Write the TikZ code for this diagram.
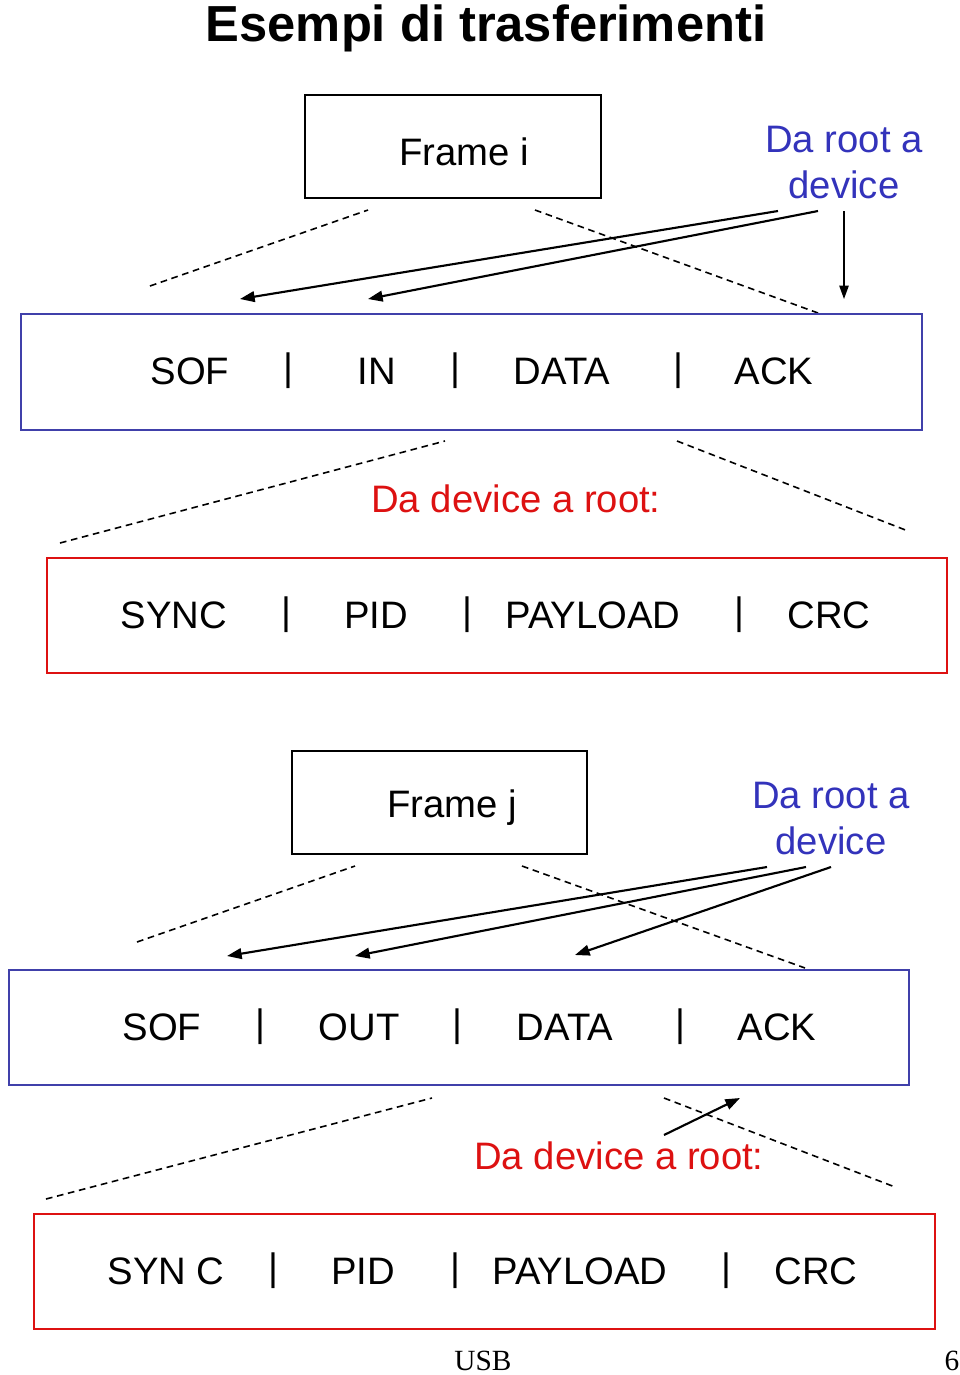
\documentclass[tikz,border=0pt]{standalone}
\usepackage{fontspec}
\setmainfont{Liberation Sans}
\newfontfamily\timesf{Liberation Serif}
\usetikzlibrary{arrows.meta}
\definecolor{rootblue}{RGB}{51,51,187}
\definecolor{boxblue}{RGB}{64,64,170}
\definecolor{devred}{RGB}{221,17,17}
\tikzset{
  frame/.style={draw=black, line width=1.5pt, inner sep=0pt, anchor=north west},
  bluebox/.style={draw=boxblue, line width=1.5pt, inner sep=0pt, anchor=north west},
  redbox/.style={draw=devred, line width=1.2pt, inner sep=0pt, anchor=north west},
  lbl/.style={font=\fontsize{28.7pt}{33pt}\selectfont, inner sep=0pt, anchor=center},
  bluelbl/.style={lbl, text=rootblue, align=center, font=\fontsize{28.7pt}{34.5pt}\selectfont},
  redlbl/.style={lbl, text=devred},
  dash line/.style={line width=1.2pt, dash pattern=on 5pt off 3.5pt},
  arr/.style={line width=1.6pt, -{Triangle[length=11pt,width=8pt]}},
  thinarr/.style={line width=1.1pt, -{Triangle[length=10pt,width=7pt]}}
}
\begin{document}
\begin{tikzpicture}[x=0.75pt,y=-0.75pt]
\useasboundingbox (0,0) rectangle (960,1375);
% title
\node[inner sep=0pt, anchor=base, font=\fontsize{38pt}{44pt}\selectfont\bfseries] (title) at (486,41) {Esempi di trasferimenti};

% ===== first example =====
\node[frame, minimum width=296*0.75pt, minimum height=103*0.75pt] (fi) at (304,94) {};
\node[lbl] (fitext) at (464,152) {Frame i};
\node[bluelbl] (r1) at (844,163) {Da root a\\device};
\coordinate (r1a) at (778,211);
\coordinate (r1b) at (818,211);
\coordinate (r1c) at (844,211);
\coordinate (t1a) at (240,299);
\coordinate (t1b) at (368,299);
\coordinate (t1c) at (844,299);

\coordinate (d1a) at (150,286); \coordinate (d1b) at (368,210);
\coordinate (d1c) at (535,210); \coordinate (d1d) at (818,313);
\draw[dash line] (d1a) -- (d1b);
\draw[dash line] (d1c) -- (d1d);
\draw[arr] (r1a) -- (t1a);
\draw[arr] (r1b) -- (t1b);
\draw[thinarr] (r1c) -- (t1c);

\node[bluebox, minimum width=901*0.75pt, minimum height=116*0.75pt] (b1) at (20,313) {};
\node[lbl] (b1sof) at (190,371) {SOF};
\node[lbl] (b1s1) at (288,371) {|};
\node[lbl] (b1in) at (377,371) {IN};
\node[lbl] (b1s2) at (455,371) {|};
\node[lbl] (b1data) at (562,371) {DATA};
\node[lbl] (b1s3) at (678,371) {|};
\node[lbl] (b1ack) at (774,371) {ACK};

\coordinate (d2a) at (60,543); \coordinate (d2b) at (445,441);
\coordinate (d2c) at (677,441); \coordinate (d2d) at (908,531);
\draw[dash line] (d2a) -- (d2b);
\draw[dash line] (d2c) -- (d2d);
\node[redlbl] (dr1) at (516,499) {Da device a root:};

\node[redbox, minimum width=900*0.75pt, minimum height=115*0.75pt] (rb1) at (46,557) {};
\node[lbl] (rb1sync) at (174,615) {SYNC};
\node[lbl] (rb1s1) at (286,615) {|};
\node[lbl] (rb1pid) at (376,615) {PID};
\node[lbl] (rb1s2) at (467,615) {|};
\node[lbl] (rb1pay) at (593,615) {PAYLOAD};
\node[lbl] (rb1s3) at (739,615) {|};
\node[lbl] (rb1crc) at (829,615) {CRC};

% ===== second example =====
\node[frame, minimum width=295*0.75pt, minimum height=103*0.75pt] (fj) at (291,750) {};
\node[lbl] (fjtext) at (452,808) {Frame j};
\node[bluelbl] (r2) at (831,819) {Da root a\\device};
\coordinate (r2a) at (767,867);
\coordinate (r2b) at (806,867);
\coordinate (r2c) at (831,867);
\coordinate (t2a) at (227,956);
\coordinate (t2b) at (355,956);
\coordinate (t2c) at (575,955);

\coordinate (d3a) at (137,942); \coordinate (d3b) at (355,866);
\coordinate (d3c) at (522,866); \coordinate (d3d) at (805,968);
\draw[dash line] (d3a) -- (d3b);
\draw[dash line] (d3c) -- (d3d);
\draw[arr] (r2a) -- (t2a);
\draw[arr] (r2b) -- (t2b);
\draw[arr] (r2c) -- (t2c);

\node[bluebox, minimum width=900*0.75pt, minimum height=115*0.75pt] (b2) at (8,969) {};
\node[lbl] (b2sof) at (162,1027) {SOF};
\node[lbl] (b2s1) at (260,1027) {|};
\node[lbl] (b2out) at (359,1027) {OUT};
\node[lbl] (b2s2) at (457,1027) {|};
\node[lbl] (b2data) at (565,1027) {DATA};
\node[lbl] (b2s3) at (680,1027) {|};
\node[lbl] (b2ack) at (777,1027) {ACK};

\coordinate (d4a) at (46,1199); \coordinate (d4b) at (432,1098);
\coordinate (d4c) at (664,1098); \coordinate (d4d) at (895,1187);
\draw[dash line] (d4a) -- (d4b);
\draw[dash line] (d4c) -- (d4d);
\node[redlbl] (dr2) at (619,1156) {Da device a root:};
\coordinate (a4s) at (664,1135);
\coordinate (a4e) at (740,1098);
\draw[arr] (a4s) -- (a4e);

\node[redbox, minimum width=901*0.75pt, minimum height=115*0.75pt] (rb2) at (33,1213) {};
\node[lbl] (rb2sync) at (166,1271) {SYN C};
\node[lbl] (rb2s1) at (273,1271) {|};
\node[lbl] (rb2pid) at (363,1271) {PID};
\node[lbl] (rb2s2) at (455,1271) {|};
\node[lbl] (rb2pay) at (580,1271) {PAYLOAD};
\node[lbl] (rb2s3) at (726,1271) {|};
\node[lbl] (rb2crc) at (816,1271) {CRC};

% footer
\node[inner sep=0pt, font=\timesf\fontsize{22pt}{26pt}\selectfont] (usb) at (483,1361) {USB};
\node[inner sep=0pt, font=\timesf\fontsize{22pt}{26pt}\selectfont] (pg) at (952,1361) {6};
\end{tikzpicture}
\end{document}
